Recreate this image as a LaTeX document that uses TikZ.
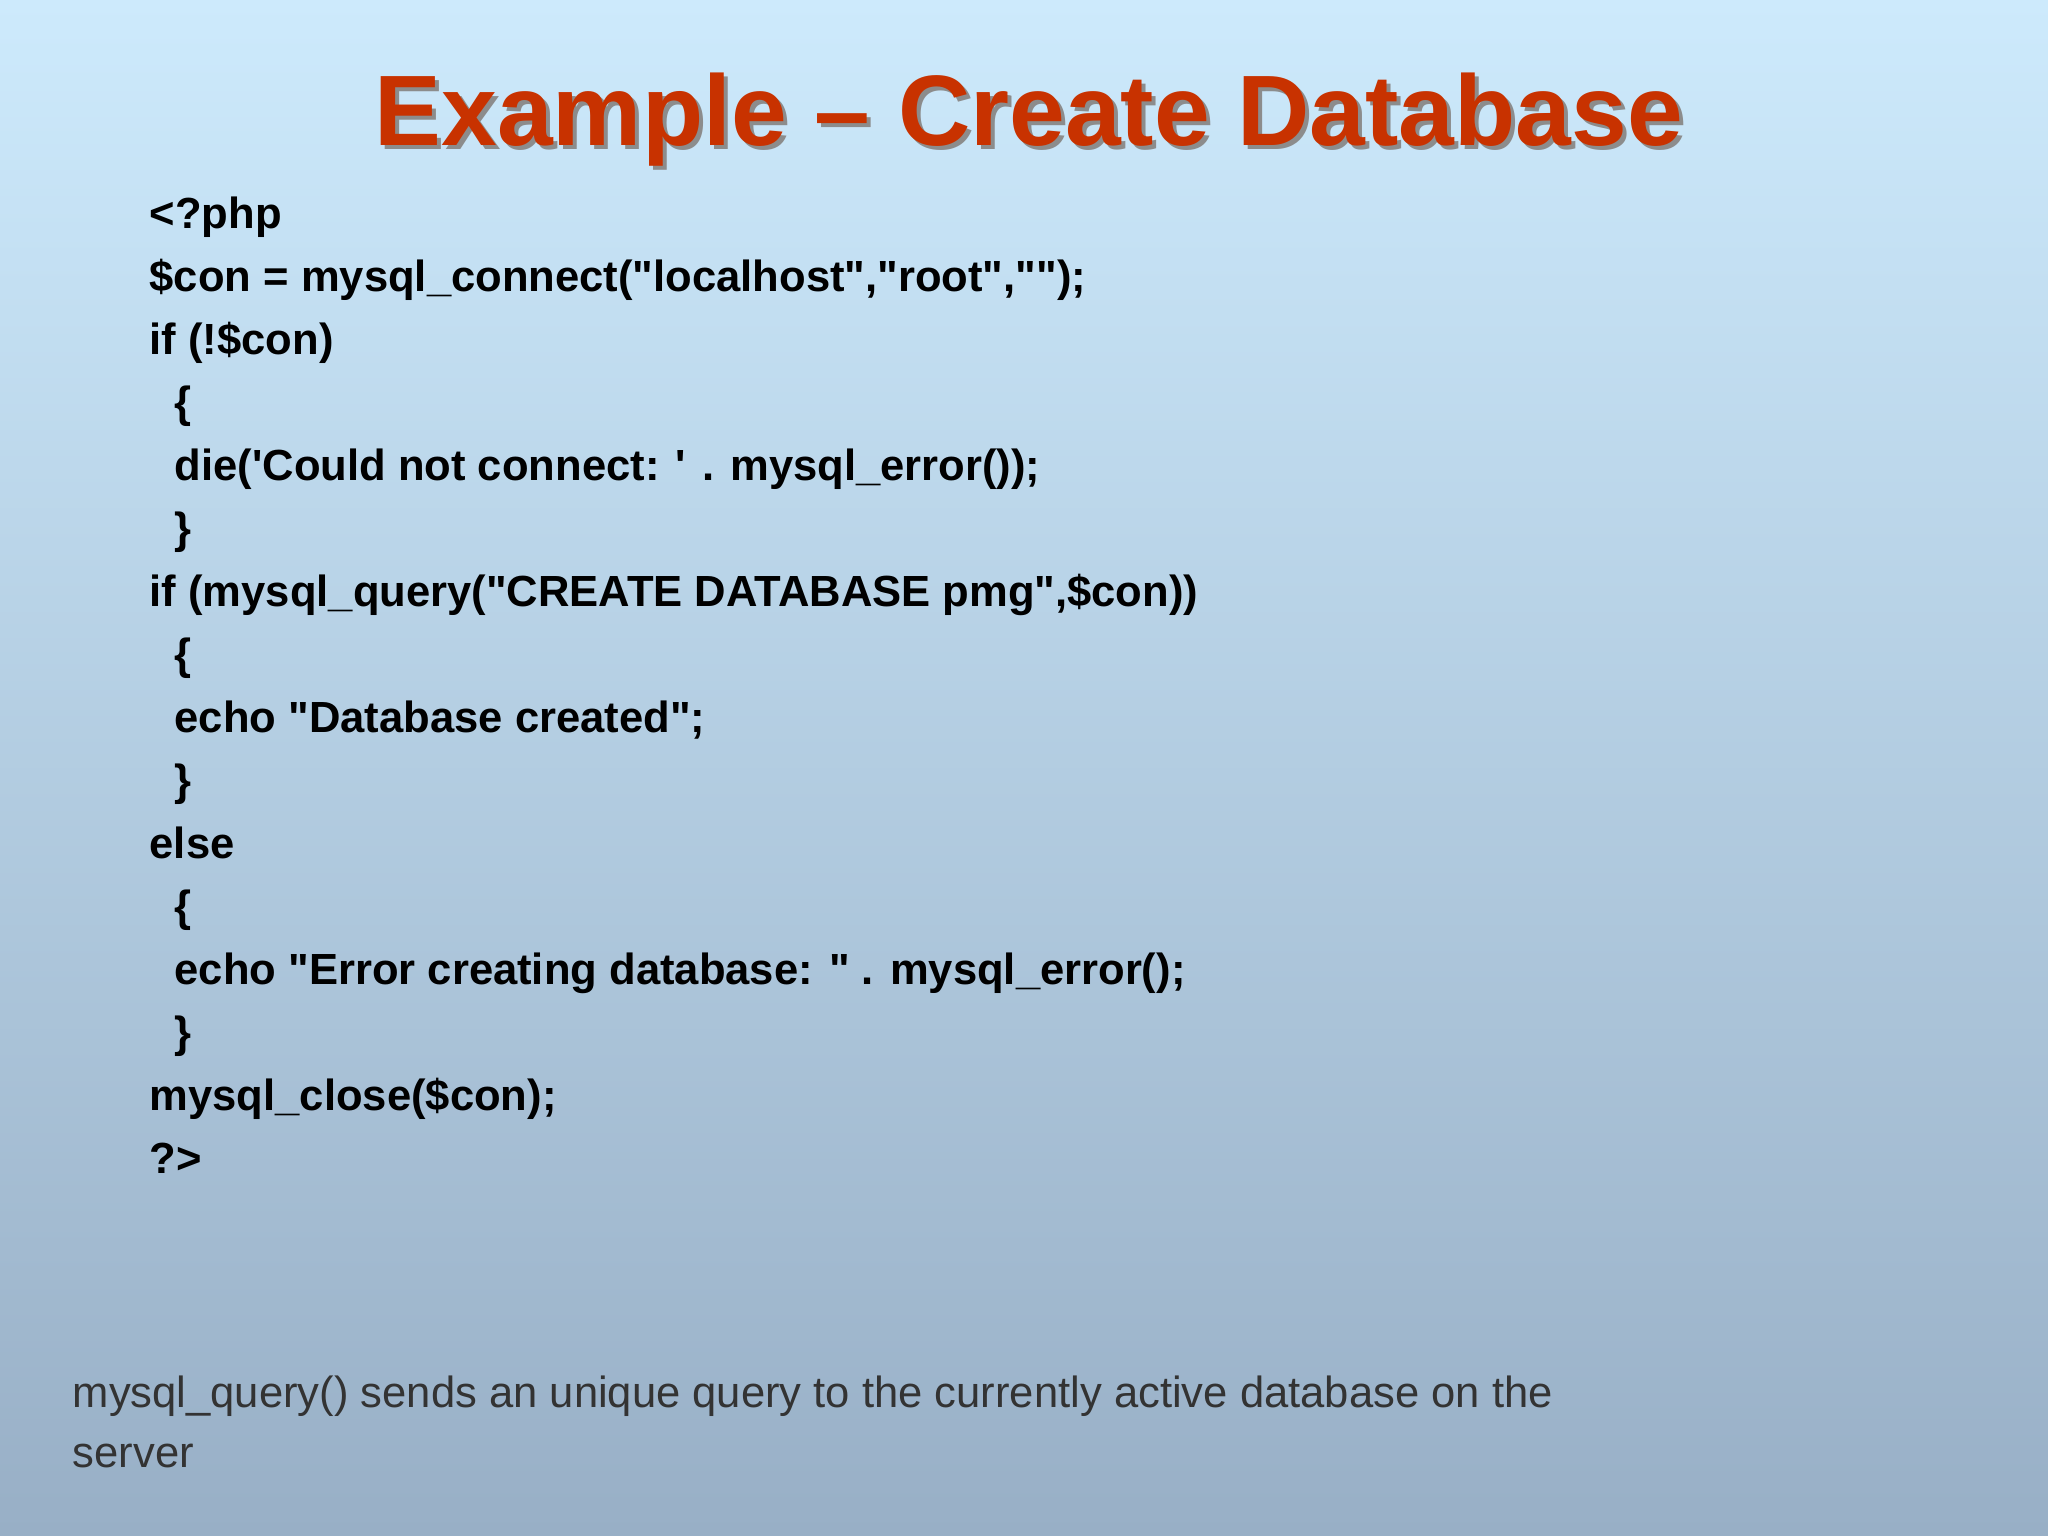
\documentclass[tikz,border=0pt]{standalone}
\usepackage{fontspec}
\newfontfamily\codefont{Liberation Sans}
\definecolor{titlered}{HTML}{C83200}
\definecolor{bgtop}{HTML}{CDEAFC}
\definecolor{bgbot}{HTML}{98AFC6}
\begin{document}
\begin{tikzpicture}[
  codeline/.style={anchor=base west,inner sep=0pt,font=\codefont\bfseries\fontsize{12.4}{14}\selectfont,text=black},
  note/.style={anchor=base west,inner sep=0pt,font=\codefont\fontsize{12.4}{14}\selectfont,text=black!80},
  titletext/.style={inner sep=0pt,font=\codefont\bfseries\fontsize{28.5}{32}\selectfont}]
\shade[top color=bgtop,bottom color=bgbot] (0,0) rectangle (20.48,15.36);
\useasboundingbox (0,0) rectangle (20.48,15.36);
\node[titletext,text=black!45] (tshadow) at (10.33,14.12) {Example – Create Database};
\node[titletext,text=titlered] (title) at (10.29,14.16) {Example – Create Database};
\def\L{1.49}\def\I{1.74}
\node[codeline] (l0) at (\L,13.075) {<?php};
\node[codeline] (l1) at (\L,12.445) {\$con = mysql\_connect("localhost","root","");};
\node[codeline] (l2) at (\L,11.815) {if (!\$con)};
\node[codeline] (l3) at (\I,11.185) {\{};
\node[codeline] (l4) at (\I,10.555) {die('Could not connect: ' . mysql\_error());};
\node[codeline] (l5) at (\I,9.925) {\}};
\node[codeline] (l6) at (\L,9.295) {if (mysql\_query("CREATE DATABASE pmg",\$con))};
\node[codeline] (l7) at (\I,8.665) {\{};
\node[codeline] (l8) at (\I,8.035) {echo "Database created";};
\node[codeline] (l9) at (\I,7.405) {\}};
\node[codeline] (l10) at (\L,6.775) {else};
\node[codeline] (l11) at (\I,6.145) {\{};
\node[codeline] (l12) at (\I,5.515) {echo "Error creating database: " . mysql\_error();};
\node[codeline] (l13) at (\I,4.885) {\}};
\node[codeline] (l14) at (\L,4.255) {mysql\_close(\$con);};
\node[codeline] (l15) at (\L,3.625) {?>};
\node[note] (n1) at (0.72,1.28) {mysql\_query() sends an unique query to the currently active database on the};
\node[note] (n2) at (0.72,0.68) {server};
\end{tikzpicture}
\end{document}
